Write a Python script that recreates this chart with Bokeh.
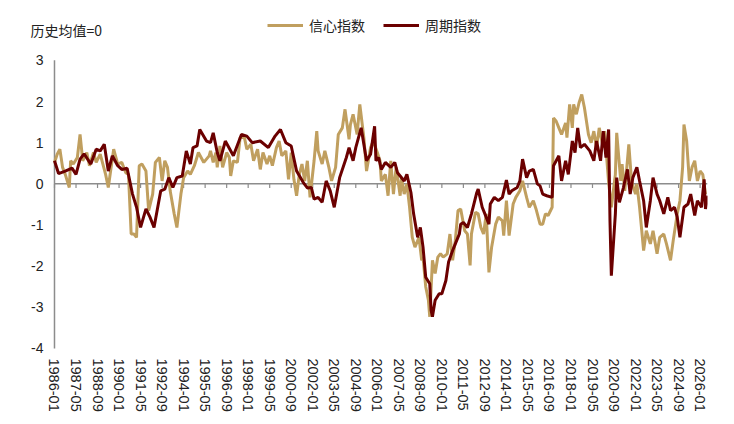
from bokeh.plotting import figure
from bokeh.models import Range1d, FixedTicker, Legend, LegendItem, Label
from bokeh.core.properties import value
from bokeh.embed import file_html
from bokeh.resources import INLINE

# x tick labels (every 16 months)
tick_labels = ["1986-01", "1987-05", "1988-09", "1990-01", "1991-05", "1992-09",
               "1994-01", "1995-05", "1996-09", "1998-01", "1999-05", "2000-09",
               "2002-01", "2003-05", "2004-09", "2006-01", "2007-05", "2008-09",
               "2010-01", "2011-05", "2012-09", "2014-01", "2015-05", "2016-09",
               "2018-01", "2019-05", "2020-09", "2022-01", "2023-05", "2024-09",
               "2026-01"]
y_ticks = [-4, -3, -2, -1, 0, 1, 2, 3]

# 信心指数: months since 1986-01 and value
conf_m = [0, 2, 4, 6, 8, 11, 12, 14, 17, 19, 21, 24, 26, 29, 31, 34, 38, 40, 44, 47,
          50, 53, 55, 57, 59, 61, 63, 65, 68, 70, 73, 75, 78, 80, 82, 84, 86, 89, 91, 94,
          96, 99, 101, 104, 107, 111, 115, 116, 118, 120, 121, 123, 125, 128, 130, 131,
          133, 136, 138, 141, 143, 146, 148, 151, 153, 155, 158, 160, 162, 165, 167, 169,
          172, 174, 176, 178, 180, 182, 184, 186, 188, 190, 193, 195, 196, 199, 201, 204,
          206, 209, 211, 214, 216, 219, 220, 222, 225, 227, 230, 232, 235, 237, 240, 242,
          243, 246, 248, 250, 252, 254, 257, 258, 260, 262, 264, 266, 268, 271, 273, 274,
          276, 278, 279, 281, 283, 285, 287, 289, 292, 294, 296, 298, 300, 302, 305, 307,
          309, 310, 313, 315, 317, 319, 321, 323, 325, 328, 330, 333, 334, 336, 338, 341,
          343, 346, 348, 351, 353, 356, 358, 361, 363, 365, 367, 370, 371, 373, 375, 377,
          380, 381, 383, 385, 386, 388, 390, 392, 394, 397, 399, 401, 403, 405, 408, 409,
          412, 414, 417, 418, 421, 422, 424, 427, 429, 432, 433, 435, 438, 440, 443, 445,
          448, 450, 453, 455, 458, 460, 463, 465, 467, 468, 470, 472, 474, 476, 478, 480,
          482, 484]
conf_v = [0.52, 0.72, 0.84, 0.4, 0.23, -0.09, 0.56, 0.48, 0.64, 1.2, 0.56, 0.76, 0.44, 0.76,
          0.52, 0.72, 0.23, -0.09, 0.84, 0.48, 0.52, 0.27, 0.23, -1.22, -1.22, -1.3, 0.44,
          0.48, 0.31, -0.65, -0.25, 0.52, 0.64, 0.07, 0.56, 0.4, -0.17, -0.73, -1.06, -0.25,
          0.15, 0.31, 0.23, 0.44, 0.76, 0.52, 0.68, 0.8, 0.52, 0.76, 0.4, 0.92, 0.4, 0.76,
          0.64, 0.19, 0.56, 0.52, 1.12, 1.16, 0.84, 0.96, 0.56, 0.84, 0.35, 0.76, 0.48, 0.68,
          0.44, 0.88, 1.04, 0.68, 0.8, 0.11, 0.76, 0.11, -0.29, 0.23, 0.48, 0.07, 0.56, -0.33,
          0.56, 1.28, 0.8, 0.48, 0.8, 0.4, 0.07, 0.4, 1.2, 1.36, 1.81, 1.08, 1.44, 1.69, 1.2,
          1.93, 1.12, 0.31, 0.88, 1.04, 0.76, 0.56, 0.07, 0.23, -0.29, 0.56, -0.25, 0.4,
          -0.29, 0.15, -0.25, 0.0, -0.57, -1.3, -1.54, -1.3, -1.86, -1.78, -2.5, -2.83, -3.23,
          -1.86, -2.18, -1.78, -1.7, -1.78, -1.7, -1.22, -1.86, -1.38, -0.65, -0.61, -1.14,
          -1.22, -1.98, -1.22, -0.69, -0.73, -1.06, -1.22, -0.73, -2.15, -1.54, -0.98, -0.81,
          -0.9, -1.26, -0.41, -1.26, -0.49, -0.33, -0.17, 0.07, -0.33, -0.57, -0.41, -0.61,
          -0.98, -0.98, -0.73, -0.77, -0.57, 1.6, 1.52, 1.36, 1.2, 1.48, 1.12, 1.93, 1.36,
          1.93, 1.69, 1.97, 2.17, 1.85, 1.2, 1.0, 1.28, 0.88, 1.36, 0.88, 1.28, 0.03, -0.57,
          0.23, 1.24, 0.07, 0.48, -0.17, 0.96, 0.07, -0.25, 0.0, -0.57, -1.62, -1.14, -1.46,
          -1.14, -1.7, -1.3, -1.22, -1.46, -1.86, -1.38, -0.73, -0.41, 0.4, 1.44, 1.04, 0.07,
          0.4, 0.56, 0.07, 0.31, 0.23, -0.25]

# 周期指数: months since 1986-01 and value
cyc_m = [0, 3, 8, 13, 16, 19, 22, 27, 31, 34, 37, 40, 43, 47, 50, 54, 58, 61, 64, 68,
         71, 74, 79, 82, 85, 88, 91, 95, 98, 101, 103, 106, 108, 113, 116, 118, 121, 123,
         127, 133, 139, 143, 147, 153, 159, 164, 168, 172, 176, 180, 185, 188, 191, 193,
         196, 199, 202, 205, 208, 212, 217, 219, 222, 224, 228, 232, 235, 238, 239, 241,
         243, 246, 250, 253, 255, 257, 260, 262, 265, 267, 270, 272, 274, 276, 279, 280,
         281, 283, 286, 288, 291, 293, 296, 298, 301, 302, 304, 307, 310, 314, 315, 318,
         320, 323, 324, 327, 330, 333, 336, 338, 340, 344, 346, 348, 351, 353, 356, 359,
         361, 363, 366, 370, 371, 375, 377, 380, 382, 385, 387, 389, 391, 394, 398, 401,
         403, 406, 408, 410, 412, 413, 414, 417, 418, 420, 423, 426, 428, 430, 433, 435,
         438, 440, 443, 445, 448, 450, 453, 456, 458, 461, 463, 465, 468, 471, 473, 476,
         478, 481, 483, 484, 486]
cyc_v = [0.56, 0.25, 0.31, 0.38, 0.23, 0.6, 0.73, 0.48, 0.84, 0.8, 0.96, 0.31, 0.68, 0.44,
         0.35, 0.38, -0.25, -0.57, -1.06, -0.61, -0.81, -1.06, -0.17, -0.13, 0.15, -0.09,
         0.15, 0.19, 0.8, 0.48, 0.88, 0.92, 1.32, 1.04, 1.0, 1.24, 0.76, 0.56, 1.04, 0.68,
         1.2, 1.16, 1.0, 1.04, 0.88, 1.16, 1.32, 1.0, 0.92, 0.31, 0.03, -0.1, -0.09, -0.37,
         -0.33, -0.45, 0.07, -0.17, -0.57, 0.15, 0.64, 0.88, 0.56, 0.88, 1.36, 0.56, 0.72,
         1.4, 0.56, 0.64, 0.35, 0.52, 0.4, 0.52, 0.27, 0.19, 0.07, 0.23, -0.21, -0.73, -1.3,
         -1.06, -1.54, -2.27, -2.43, -3.07, -3.23, -2.83, -2.67, -2.67, -2.35, -1.9, -1.62,
         -1.46, -1.22, -0.98, -0.94, -1.06, -0.73, -0.21, -0.13, -0.57, -0.73, -0.98, -0.49,
         -0.33, -0.41, -0.33, 0.09, -0.25, -0.17, -0.09, 0.07, 0.6, 0.15, 0.31, 0.35, 0.0,
         -0.05, -0.25, -0.29, -0.33, 0.44, 0.68, 0.07, 0.56, 0.23, 1.04, 0.76, 1.36, 0.88,
         0.96, 0.8, 0.56, 1.04, 0.56, 1.28, 0.64, 1.32, -0.9, -2.23, -0.73, 0.15, -0.45,
         -0.09, 0.35, -0.25, 0.15, 0.4, 0.07, -0.41, -1.06, -0.41, 0.15, -0.25, -0.41, -0.73,
         -0.33, -0.65, -0.57, -0.81, -1.3, -0.57, -0.49, -0.25, -0.77, -0.41, -0.57, 0.11,
         -0.61, -0.29]

TAN = "#C09F5F"
DARK = "#6B0000"
AXIS = "#8c8c8c"
FONT = "Liberation Sans"
CJK = "Noto Sans CJK SC"
TEXT = "#222222"


def month_index(s):
    y, mo = s.split("-")
    return (int(y) - 1986) * 12 + int(mo) - 1


ticks = [month_index(s) for s in tick_labels]
x_end = 485.5

# the frame is a bit larger than the data area so that the note, the legend
# and the y labels (drawn by hand) sit inside it
p = figure(width=726, height=416, output_backend="svg", toolbar_location=None,
           x_range=Range1d(-22.3, x_end), y_range=Range1d(-4.22, 4.26),
           min_border_left=24, min_border_right=19, min_border_top=8, min_border_bottom=59)
p.outline_line_color = None
p.grid.grid_line_color = None
p.yaxis.visible = False

# x axis: labels only at the bottom
p.xaxis.ticker = FixedTicker(ticks=ticks)
p.xaxis.major_label_overrides = {t: s for t, s in zip(ticks, tick_labels)}
p.xaxis.major_label_orientation = "vertical"
p.xaxis.axis_line_color = None
p.xaxis.major_tick_line_color = None
p.xaxis.minor_tick_line_color = None
p.xaxis.major_tick_out = 0
p.xaxis.major_label_standoff = 1
p.xaxis.major_label_text_font = FONT
p.xaxis.major_label_text_font_size = "14.5px"
p.xaxis.major_label_text_color = TEXT

# y axis line and its labels
p.segment(x0=[ticks[0]], y0=[min(y_ticks)], x1=[ticks[0]], y1=[max(y_ticks)],
          line_color=AXIS, line_width=1.5)
p.text(x=[ticks[0]] * len(y_ticks), y=y_ticks, text=[str(t) for t in y_ticks],
       x_offset=-11, text_align="right", text_baseline="middle",
       text_font=value(FONT), text_font_size="14px", text_color=TEXT)

# zero line with small ticks hanging below it
p.segment(x0=[ticks[0]], y0=[0], x1=[x_end], y1=[0], line_color=AXIS, line_width=1.5)
p.segment(x0=ticks, y0=[0] * len(ticks), x1=ticks, y1=[-0.1] * len(ticks),
          line_color=AXIS, line_width=1.2)

l1 = p.line(conf_m, conf_v, line_color=TAN, line_width=3)
l2 = p.line(cyc_m, cyc_v, line_color=DARK, line_width=3)

legend = Legend(items=[LegendItem(label="信心指数", renderers=[l1]),
                       LegendItem(label="周期指数", renderers=[l2])],
                orientation="horizontal", location=(243, 322),
                padding=0, margin=0, spacing=18, glyph_width=36, glyph_height=20,
                label_height=20, label_standoff=6, border_line_color=None,
                background_fill_alpha=0, label_text_font=CJK,
                label_text_font_size="14px", label_text_color=TEXT)
p.add_layout(legend)

note = Label(x=6, y=328, x_units="screen", y_units="screen", text="历史均值=0",
             text_font=CJK, text_font_size="14px", text_baseline="middle",
             text_color=TEXT)
p.add_layout(note)

open("out.html", "w").write(file_html(p, INLINE))
